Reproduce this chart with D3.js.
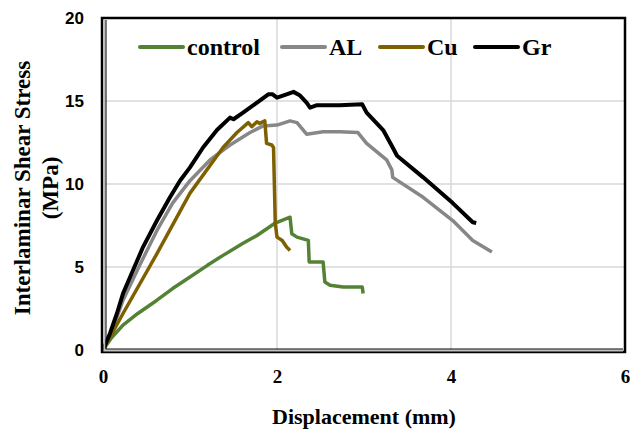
<!DOCTYPE html>
<html>
<head>
<meta charset="utf-8">
<script src="https://cdn.jsdelivr.net/npm/d3@7"></script>
<style>
  body { margin: 0; background: #fff; }
  svg { display: block; }
</style>
</head>
<body>
<div id="chart"></div>
<script>
// series: [displacement mm, stress MPa]
var control = [[0,0],[0.1,0.75],[0.23,1.5],[0.4,2.2],[0.62,3.0],[0.8,3.7],[1.0,4.4],[1.2,5.1],[1.38,5.7],[1.6,6.4],[1.77,6.9],[1.98,7.65],[2.15,8.0],[2.17,7.0],[2.23,6.8],[2.36,6.6],[2.37,5.3],[2.53,5.3],[2.55,4.1],[2.61,3.9],[2.76,3.8],[2.98,3.8],[2.99,3.4]];
var al = [[0,0],[0.08,0.8],[0.23,3.0],[0.43,5.2],[0.62,7.2],[0.8,8.85],[1.0,10.2],[1.23,11.45],[1.46,12.35],[1.69,13.1],[1.84,13.5],[2.0,13.55],[2.15,13.8],[2.23,13.7],[2.34,13.0],[2.53,13.15],[2.72,13.15],[2.93,13.1],[3.03,12.45],[3.26,11.45],[3.32,10.85],[3.33,10.4],[3.68,9.2],[4.02,7.8],[4.25,6.6],[4.47,5.9]];
var cu = [[0,0],[0.23,2.2],[0.62,5.8],[1.0,9.45],[1.38,12.2],[1.54,13.1],[1.67,13.7],[1.71,13.45],[1.77,13.75],[1.8,13.65],[1.86,13.8],[1.88,12.45],[1.94,12.35],[1.96,12.2],[1.98,7.65],[2.0,6.8],[2.06,6.6],[2.11,6.2],[2.15,6.0]];
var gr = [[0,0],[0.08,1.0],[0.16,2.2],[0.23,3.4],[0.345,4.8],[0.46,6.2],[0.62,7.8],[0.77,9.2],[0.885,10.2],[1.0,11.0],[1.15,12.2],[1.31,13.25],[1.46,14.0],[1.5,13.9],[1.61,14.3],[1.77,14.9],[1.9,15.4],[1.95,15.4],[2.0,15.2],[2.11,15.4],[2.19,15.55],[2.26,15.35],[2.34,14.9],[2.38,14.6],[2.46,14.75],[2.72,14.75],[2.98,14.8],[3.03,14.3],[3.22,13.25],[3.33,12.2],[3.38,11.7],[3.68,10.4],[4.02,8.85],[4.25,7.7],[4.29,7.65]];

var seriesNames = ['control', 'AL', 'Cu', 'Gr'];
var seriesColors = ['#548235', '#878787', '#7f6000', '#000000'];
var seriesData = [control, al, cu, gr];
var xTicks = [0, 2, 4, 6];
var yTicks = [0, 5, 10, 15, 20];

var _width = 630, _height = 432;
// plot box (note: "top" is reserved on window, so prefix these)
var pLeft = 103, pRight = 625, pTop = 18, pBottom = 350;
var serif = '"Liberation Serif", "Times New Roman", serif';

var svg = d3.select('#chart').append('svg')
  .attr('width', _width)
  .attr('height', _height);

var x = d3.scaleLinear().domain([0, 6]).range([pLeft, pRight]);
var y = d3.scaleLinear().domain([0, 20]).range([pBottom, pTop]);

// gridlines
svg.append('g').selectAll('line')
  .data(xTicks.slice(1, -1))
  .enter().append('line')
  .attr('x1', function(d) { return x(d); }).attr('x2', function(d) { return x(d); })
  .attr('y1', pTop).attr('y2', pBottom)
  .style('stroke', '#d9d9d9').style('stroke-width', 1.5);
svg.append('g').selectAll('line')
  .data(yTicks.slice(1, -1))
  .enter().append('line')
  .attr('x1', pLeft).attr('x2', pRight)
  .attr('y1', function(d) { return y(d); }).attr('y2', function(d) { return y(d); })
  .style('stroke', '#d9d9d9').style('stroke-width', 1.5);

// axes (labels only, the frame is drawn by hand)
var xAxis = svg.append('g')
  .attr('transform', 'translate(0,' + (pBottom + 26) + ')')
  .call(d3.axisBottom(x).tickValues(xTicks).tickSize(0).tickPadding(0).tickFormat(d3.format('d')));
xAxis.select('.domain').remove();
xAxis.selectAll('text')
  .attr('dy', '0.35em')
  .style('font-family', serif)
  .style('font-weight', 'bold').style('font-size', '19px').style('fill', '#000');

var yAxis = svg.append('g')
  .attr('transform', 'translate(' + (pLeft - 19) + ',0)')
  .call(d3.axisLeft(y).tickValues(yTicks).tickSize(0).tickPadding(0));
yAxis.select('.domain').remove();
yAxis.selectAll('text')
  .attr('dy', '0.35em')
  .style('font-family', '"Liberation Sans", Arial, sans-serif')
  .style('font-weight', 'bold').style('font-size', '17px').style('fill', '#000');

// lines
var line = d3.line()
  .x(function(d) { return x(d[0]); })
  .y(function(d) { return y(d[1]); });

svg.append('g').selectAll('path')
  .data(seriesData)
  .enter().append('path')
  .attr('d', line)
  .style('fill', 'none')
  .style('stroke', function(d, i) { return seriesColors[i]; })
  .style('stroke-width', function(d, i) { return i == 3 ? 4 : 3.5; })
  .style('stroke-linejoin', 'round');

// frame: thick black box, with a grey band on the left and bottom
svg.append('rect')
  .attr('x', pLeft - 1).attr('y', pTop)
  .attr('width', pRight - pLeft + 1).attr('height', pBottom - pTop + 2)
  .style('fill', 'none').style('stroke', '#000').style('stroke-width', 2.5);
svg.append('path')
  .attr('d', 'M' + (pLeft + 1.5) + ',' + (pTop + 2) + 'V' + (pBottom + 0.5) + 'H' + (pRight - 2))
  .style('fill', 'none').style('stroke', '#bfbfbf').style('stroke-width', 2);
svg.append('path')
  .attr('d', 'M' + (pLeft + 3) + ',' + (pTop + 2) + 'V' + (pBottom - 1) + 'H' + (pRight - 2))
  .style('fill', 'none').style('stroke', '#000').style('stroke-width', 1);

// legend
var legendX = [140, 282, 380, 475];
var legend = svg.append('g').selectAll('g')
  .data(seriesNames)
  .enter().append('g')
  .attr('transform', function(d, i) { return 'translate(' + legendX[i] + ',47)'; });
legend.append('line')
  .attr('x1', 0).attr('x2', 43)
  .style('stroke', function(d, i) { return seriesColors[i]; })
  .style('stroke-width', 4).style('stroke-linecap', 'round');
legend.append('text')
  .attr('x', 47).attr('dy', '0.33em')
  .text(function(d) { return d; })
  .style('font-family', serif)
  .style('font-weight', 'bold').style('font-size', '24px');

// axis titles
svg.append('text')
  .attr('x', (pLeft + pRight) / 2).attr('y', 424)
  .attr('text-anchor', 'middle')
  .text('Displacement (mm)')
  .style('font-family', serif)
  .style('font-weight', 'bold').style('font-size', '22px');
var yTitle = svg.append('text')
  .attr('transform', 'translate(30,188) rotate(-90)')
  .attr('text-anchor', 'middle')
  .style('font-family', serif)
  .style('font-weight', 'bold').style('font-size', '23px');
yTitle.append('tspan').attr('x', 0).attr('y', 0).text('Interlaminar Shear Stress');
yTitle.append('tspan').attr('x', 0).attr('y', 28).text('(MPa)');
</script>
</body>
</html>
